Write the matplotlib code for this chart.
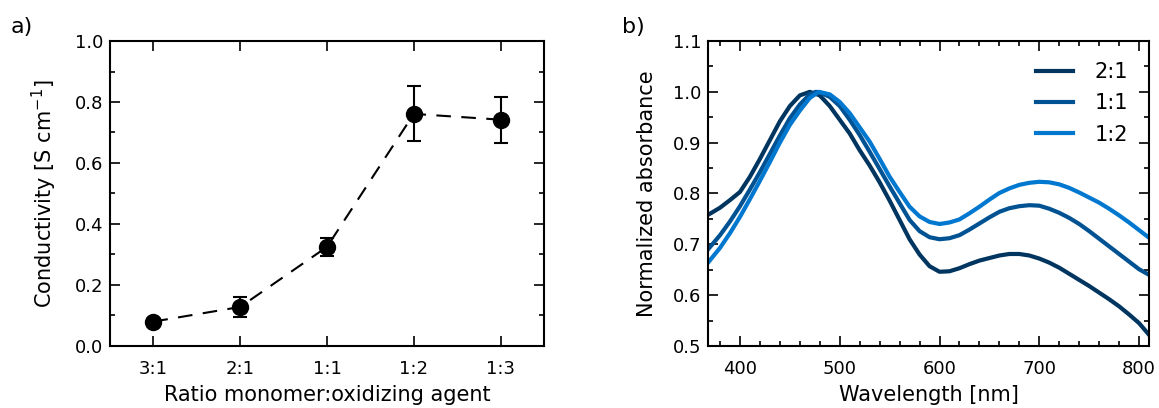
import matplotlib
matplotlib.use("Agg")
import matplotlib.pyplot as plt
from matplotlib.ticker import MultipleLocator, FormatStrFormatter

# ---- Panel a data ----
ratios = ["3:1", "2:1", "1:1", "1:2", "1:3"]
conductivity = [0.080, 0.128, 0.325, 0.761, 0.742]
cond_err = [0.010, 0.034, 0.029, 0.090, 0.076]

# ---- Panel b data ----
wl_21 = [368, 380, 390, 400, 410, 420, 430, 440, 450, 460, 470, 480, 490, 500,
         510, 520, 530, 540, 550, 560, 570, 580, 590, 600, 610, 620, 630, 640,
         650, 660, 670, 680, 690, 700, 710, 720, 730, 740, 750, 760, 770, 780,
         790, 800, 810]
ab_21 = [0.758, 0.772, 0.787, 0.803, 0.833, 0.868, 0.905, 0.942, 0.972, 0.993,
         1.000, 0.993, 0.972, 0.945, 0.918, 0.885, 0.855, 0.822, 0.786, 0.748,
         0.710, 0.680, 0.657, 0.646, 0.647, 0.653, 0.661, 0.668, 0.673, 0.678,
         0.681, 0.681, 0.678, 0.672, 0.664, 0.654, 0.642, 0.630, 0.618, 0.605,
         0.592, 0.578, 0.562, 0.545, 0.522]
wl_11 = [368, 380, 390, 400, 410, 420, 430, 440, 450, 460, 470, 476, 480, 490,
         500, 510, 520, 530, 540, 550, 560, 570, 580, 590, 600, 610, 620, 630,
         640, 650, 660, 670, 680, 690, 700, 710, 720, 730, 740, 750, 760, 770,
         780, 790, 800, 810]
ab_11 = [0.690, 0.718, 0.745, 0.775, 0.808, 0.842, 0.878, 0.914, 0.948, 0.975,
         0.995, 1.000, 0.999, 0.990, 0.972, 0.945, 0.915, 0.882, 0.848, 0.814,
         0.781, 0.748, 0.726, 0.714, 0.710, 0.712, 0.718, 0.729, 0.741, 0.753,
         0.764, 0.771, 0.775, 0.777, 0.776, 0.770, 0.762, 0.752, 0.740, 0.726,
         0.711, 0.696, 0.681, 0.666, 0.651, 0.640]
wl_12 = [368, 380, 390, 400, 410, 420, 430, 440, 450, 460, 470, 479, 490, 500,
         510, 520, 530, 540, 550, 560, 570, 580, 590, 600, 610, 620, 630, 640,
         650, 660, 670, 680, 690, 700, 710, 720, 730, 740, 750, 760, 770, 780,
         790, 800, 810]
ab_12 = [0.664, 0.693, 0.722, 0.754, 0.789, 0.825, 0.862, 0.900, 0.935, 0.963,
         0.988, 1.000, 0.995, 0.980, 0.958, 0.930, 0.902, 0.868, 0.833, 0.803,
         0.774, 0.755, 0.744, 0.740, 0.743, 0.749, 0.761, 0.774, 0.788, 0.801,
         0.810, 0.817, 0.821, 0.823, 0.822, 0.818, 0.811, 0.802, 0.792, 0.782,
         0.770, 0.757, 0.743, 0.728, 0.713]
series_labels = ["2:1", "1:1", "1:2"]
colors = ["#003560", "#005292", "#0078d0"]

fig = plt.figure(figsize=(11.59, 4.08), dpi=100)
axa = fig.add_axes([0.0949, 0.152, 0.3745, 0.7475])
axb = fig.add_axes([0.6109, 0.152, 0.3805, 0.7475])

def style(ax):
    for s in ax.spines.values():
        s.set_linewidth(1.5)
    ax.tick_params(which="both", direction="in", top=True, right=True,
                   labelsize=13, width=1.2)
    ax.tick_params(axis="x", which="both", pad=10)
    ax.tick_params(axis="y", which="both", pad=5)
    ax.tick_params(which="major", length=7)
    ax.tick_params(which="minor", length=3.5)

# Panel a
x = list(range(len(ratios)))
axa.errorbar(x, conductivity, yerr=cond_err, fmt="o", color="black",
             markersize=11.5, capsize=5, elinewidth=1.5, capthick=1.5, zorder=3)
axa.plot(x, conductivity, color="black", lw=1.5, dashes=(7, 5), zorder=2)
axa.set_xlim(-0.5, 4.5)
axa.set_ylim(0, 1.0)
axa.set_xticks(x)
axa.set_xticklabels(ratios)
axa.yaxis.set_major_locator(MultipleLocator(0.2))
axa.yaxis.set_minor_locator(MultipleLocator(0.1))
axa.yaxis.set_major_formatter(FormatStrFormatter("%.1f"))
style(axa)
axa.set_xlabel("Ratio monomer:oxidizing agent", fontsize=15, labelpad=5)
axa.set_ylabel("Conductivity [S cm$^{-1}$]", fontsize=15, labelpad=11)

# Panel b
for wl, ab, lab, c in zip([wl_21, wl_11, wl_12], [ab_21, ab_11, ab_12],
                          series_labels, colors):
    axb.plot(wl, ab, color=c, lw=3, label=lab)
axb.set_xlim(368, 810)
axb.set_ylim(0.5, 1.1)
axb.xaxis.set_major_locator(MultipleLocator(100))
axb.xaxis.set_minor_locator(MultipleLocator(20))
axb.yaxis.set_major_locator(MultipleLocator(0.1))
axb.yaxis.set_minor_locator(MultipleLocator(0.05))
axb.yaxis.set_major_formatter(FormatStrFormatter("%.1f"))
style(axb)
axb.set_xlabel("Wavelength [nm]", fontsize=15, labelpad=5)
axb.set_ylabel("Normalized absorbance", fontsize=15, labelpad=11)
axb.legend(loc="upper right", frameon=False, fontsize=15, handlelength=1.75,
           handletextpad=1.05, labelspacing=0.55, borderaxespad=0.6)

fig.text(0.009, 0.92, "a)", fontsize=16)
fig.text(0.537, 0.92, "b)", fontsize=16)

fig.savefig("out.png", dpi=100)
